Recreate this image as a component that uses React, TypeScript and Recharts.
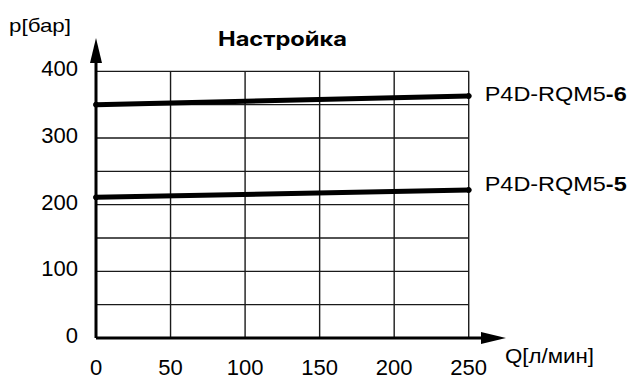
import { LineChart, Line, XAxis, YAxis, ReferenceLine } from "recharts";

// Расход Q, л/мин
const flowQ = [0, 250];
// Давление настройки, бар
const rqm5_6 = [350, 363];
const rqm5_5 = [211, 222];

const xTicks = [0, 50, 100, 150, 200, 250];
const yGrid = [0, 50, 100, 150, 200, 250, 300, 350, 400];
const yTicks = [0, 100, 200, 300, 400];

const seriesNames = { s6: ["P4D-RQM5", "-6"], s5: ["P4D-RQM5", "-5"] };

const data = flowQ.map((q, i) => ({ q, s6: rqm5_6[i], s5: rqm5_5[i] }));

const FONT = "'Liberation Sans', Arial, sans-serif";
const INK = "#000";

function Arrow(props: any) {
  const { x1, y1, x2, y2 } = props;
  const dx = x2 - x1;
  const dy = y2 - y1;
  const len = Math.sqrt(dx * dx + dy * dy) || 1;
  const ux = dx / len;
  const uy = dy / len;
  const head = 25;
  const half = 6;
  const bx = x2 - ux * head;
  const by = y2 - uy * head;
  const pts = `${x2},${y2} ${bx - uy * half},${by + ux * half} ${bx + uy * half},${by - ux * half}`;
  return (
    <g>
      <line x1={x1} y1={y1} x2={bx + ux * 2} y2={by + uy * 2} stroke={INK} strokeWidth={3} />
      <polygon points={pts} fill={INK} />
    </g>
  );
}

function endLabel(key: "s6" | "s5", dy: number) {
  return (props: any) => {
    const { x, y, index } = props;
    if (index !== data.length - 1) return <g />;
    const [base, suffix] = seriesNames[key];
    return (
      <text
        x={x + 16}
        y={y + dy}
        fontFamily={FONT}
        fontSize={21}
        fill={INK}
        textLength={142}
        lengthAdjust="spacingAndGlyphs"
      >
        {base}
        <tspan fontWeight="bold">{suffix}</tspan>
      </text>
    );
  };
}

function XTick(props: any) {
  const { x, y, payload } = props;
  return (
    <text x={x} y={y + 37} textAnchor="middle" fontFamily={FONT} fontSize={22} fill={INK}>
      {payload.value}
    </text>
  );
}

function YTick(props: any) {
  const { x, y, payload } = props;
  return (
    <text x={x - 18} y={y + 5} textAnchor="end" fontFamily={FONT} fontSize={22} fill={INK}>
      {payload.value}
    </text>
  );
}

export default function App() {
  return (
    <div style={{ position: "absolute", left: 0, top: 0, width: 635, height: 379, background: "#fff" }}>
      <LineChart
        width={635}
        height={379}
        data={data}
        margin={{ top: 38, right: 129, bottom: 11, left: 66 }}
      >
        <XAxis
          dataKey="q"
          type="number"
          domain={[0, 275]}
          ticks={xTicks}
          axisLine={false}
          tickLine={false}
          tickSize={0}
          tickMargin={0}
          height={30}
          tick={<XTick />}
          interval={0}
        />
        <YAxis
          type="number"
          domain={[0, 450]}
          ticks={yTicks}
          axisLine={false}
          tickLine={false}
          tickSize={0}
          tickMargin={0}
          width={30}
          tick={<YTick />}
          interval={0}
        />
        {xTicks.map((v) => (
          <ReferenceLine
            key={`vx${v}`}
            segment={[{ x: v, y: 0 }, { x: v, y: 400 }]}
            stroke="#1a1a1a"
            strokeWidth={1.4}
          />
        ))}
        {yGrid.map((v) => (
          <ReferenceLine
            key={`hy${v}`}
            segment={[{ x: 0, y: v }, { x: 250, y: v }]}
            stroke="#1a1a1a"
            strokeWidth={1.4}
          />
        ))}
        <ReferenceLine segment={[{ x: 0, y: 0 }, { x: 275, y: 0 }]} shape={<Arrow />} />
        <ReferenceLine segment={[{ x: 0, y: 0 }, { x: 0, y: 450 }]} shape={<Arrow />} />
        <Line
          dataKey="s6"
          stroke={INK}
          strokeWidth={5}
          dot={{ r: 2.5, fill: INK, stroke: INK, strokeWidth: 1 }}
          label={endLabel("s6", 5)}
          isAnimationActive={false}
        />
        <Line
          dataKey="s5"
          stroke={INK}
          strokeWidth={5}
          dot={{ r: 2.5, fill: INK, stroke: INK, strokeWidth: 1 }}
          label={endLabel("s5", 1)}
          isAnimationActive={false}
        />
        <text
          x={218}
          y={46}
          fontFamily="Inter, sans-serif"
          fontWeight={700}
          fontSize={20}
          fill={INK}
          textLength={129}
          lengthAdjust="spacingAndGlyphs"
        >
          Настройка
        </text>
        <text x={9} y={32} fontFamily={FONT} fontSize={19} fill={INK} textLength={62} lengthAdjust="spacingAndGlyphs">
          p[бар]
        </text>
        <text x={505} y={363} fontFamily={FONT} fontSize={20} fill={INK} textLength={89} lengthAdjust="spacingAndGlyphs">
          Q[л/мин]
        </text>
      </LineChart>
    </div>
  );
}
